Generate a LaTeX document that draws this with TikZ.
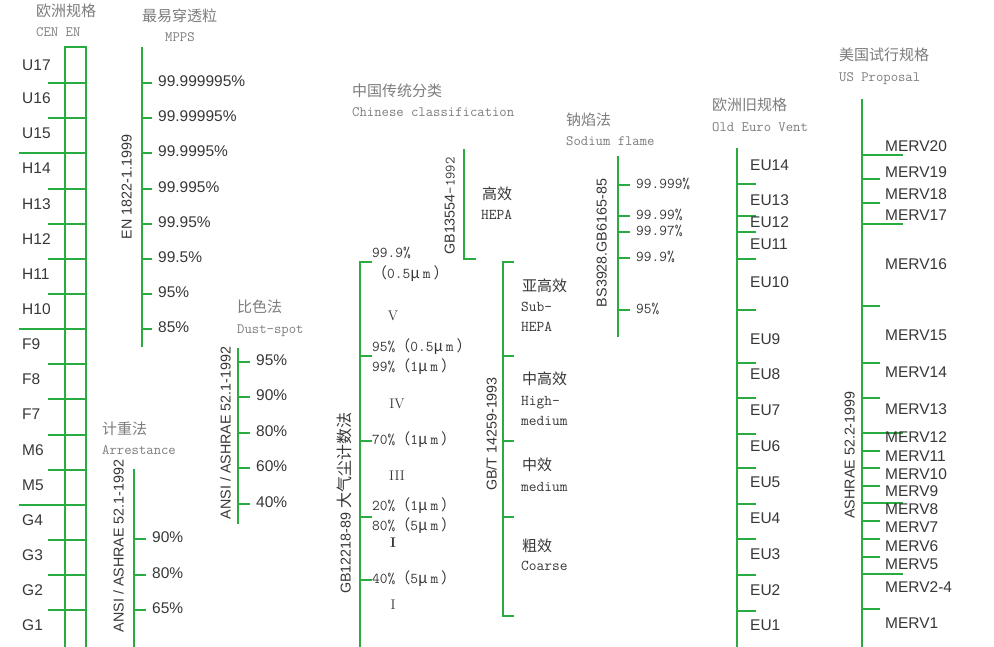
\documentclass[tikz,border=0pt]{standalone}
\usepackage{fontspec}
\newfontfamily\sansf{Liberation Sans}
\newfontfamily\cjk{Noto Sans CJK SC}
\definecolor{gl}{RGB}{40,172,64}
\definecolor{lab}{RGB}{55,55,55}
\definecolor{hdr}{RGB}{125,125,125}
\newcommand\um[1]{{\cjk （}#1{\cjk μ}\hspace{3pt}m\hspace{3pt}{\cjk ）}}
\begin{document}
\begin{tikzpicture}[x=1pt,y=-1pt,
  ln/.style={draw=gl, line width=2pt},
  lbl/.style={anchor=west, inner sep=0pt, text height=0.716em, text depth=0pt, text=lab, font=\sansf\fontsize{15.5}{16}\selectfont},
  rl/.style={rotate=90, inner sep=0pt, text height=0.716em, text depth=0pt, text=lab, font=\sansf\fontsize{14.3}{15}\selectfont},
  hz/.style={anchor=west, inner sep=0pt, text height=0.78em, text depth=0pt, text=hdr, font=\cjk\fontsize{15}{16}\selectfont},
  he/.style={anchor=west, inner sep=0pt, text height=0.62em, text depth=0pt, text=hdr, font=\ttfamily\fontsize{14.3}{15}\selectfont},
  cz/.style={anchor=west, inner sep=0pt, text height=0.78em, text depth=0pt, text=lab, font=\cjk\fontsize{15}{16}\selectfont},
  monol/.style={anchor=west, inner sep=0pt, text height=0.62em, text depth=0pt, text=lab, font=\ttfamily\fontsize{15}{16}\selectfont},
  rn/.style={anchor=center, inner sep=0pt, text height=0.68em, text depth=0pt, text=lab, font=\rmfamily\fontsize{14}{15}\selectfont}]
\useasboundingbox[fill=white] (0,0) rectangle (994,646);

% ---------- CEN EN ----------
\node[hz] (h1a) at (36,13) {欧洲规格};
\node[he] (h1b) at (36,33) {CEN EN};
\draw[ln] (65,647) -- (65,47) -- (86,47) -- (86,647);
\foreach \y in {83,118,189,224,259,294,364,399,435,470,540,575,610}
  \draw[ln] (48,\y) -- (86,\y);
\foreach \y in {153,329,505}
  \draw[ln] (19,\y) -- (86,\y);
\foreach \t/\y in {U17/67,U16/100,U15/135,H14/170,H13/206,H12/241,H11/276,H10/311,F9/346,F8/381,F7/416,M6/452,M5/487,G4/522,G3/557,G2/592,G1/627}
  \node[lbl] (cen\t) at (22,\y) {\t};

% ---------- MPPS ----------
\node[hz] (h2a) at (142,18) {最易穿透粒};
\node[he] (h2b) at (165,38) {MPPS};
\draw[ln] (142,47) -- (142,347);
\foreach \t/\y [count=\i] in {99.999995\%/83,99.99995\%/118,99.9995\%/153,99.995\%/189,99.95\%/224,99.5\%/259,95\%/294,85\%/329}{
  \draw[ln] (142,\y) -- (152,\y);
  \node[lbl] (mp\i) at (158,\y) {\t};}
\node[rl] (r1) at (128,187) {EN 1822-1.1999};

% ---------- Arrestance ----------
\node[hz] (h3a) at (102,431) {计重法};
\node[he] (h3b) at (102,451) {Arrestance};
\draw[ln] (134,469) -- (134,647);
\foreach \t/\y [count=\i] in {90\%/539,80\%/575,65\%/610}{
  \draw[ln] (134,\y) -- (146,\y);
  \node[lbl] (ar\i) at (152,\y) {\t};}
\node[rl] (r2) at (120,546) {ANSI / ASHRAE 52.1-1992};

% ---------- Dust-spot ----------
\node[hz] (h4a) at (237,309) {比色法};
\node[he] (h4b) at (237,330) {Dust-spot};
\draw[ln] (238,348) -- (238,524);
\foreach \t/\y [count=\i] in {95\%/362,90\%/397,80\%/433,60\%/468,40\%/504}{
  \draw[ln] (238,\y) -- (250,\y);
  \node[lbl] (ds\i) at (256,\y) {\t};}
\node[rl] (r3) at (227,433) {ANSI / ASHRAE 52.1-1992};

% ---------- Chinese classification ----------
\node[hz] (h5a) at (352,93) {中国传统分类};
\node[he] (h5b) at (352,113) {Chinese classification};
% GB13554
\draw[ln] (464,149) -- (464,259) -- (476,259);
\node[rl, anchor=center] (r4) at (451,206) {GB13554{\ttfamily -1992}};
\node[cz] (c1) at (482,196) {高效};
\node[monol] (c2) at (481,216) {HEPA};
% GB12218
\draw[ln] (372,262) -- (360,262) -- (360,647);
\foreach \y in {356,441,517,580} \draw[ln] (360,\y) -- (372,\y);
\node[rl, anchor=west] (r5) at (347,594) {GB12218-89 {\cjk\fontsize{16}{16}\selectfont 大气尘计数法}};
\node[monol] (g1) at (372,254) {99.9\%};
\node[monol] (g2) at (372,275) {\um{0.5}};
\node[rn] (g3) at (393,317) {V};
\node[monol] (g4) at (372,348) {95\%\um{0.5}};
\node[monol] (g5) at (372,368) {99\%\um{1}};
\node[rn] (g6) at (397,405) {IV};
\node[monol] (g7) at (372,441) {70\%\um{1}};
\node[rn] (g8) at (397,477) {III};
\node[monol] (g9) at (372,507) {20\%\um{1}};
\node[monol] (g10) at (372,527) {80\%\um{5}};
\node[rn, font=\rmfamily\bfseries\fontsize{14}{15}\selectfont] (g11) at (393,544) {I};
\node[monol] (g12) at (372,580) {40\%\um{5}};
\node[rn] (g13) at (393,606) {I};
% GB/T 14259
\draw[ln] (514,262) -- (503,262) -- (503,616) -- (514,616);
\foreach \y in {356,441,517} \draw[ln] (503,\y) -- (514,\y);
\node[rl] (r6) at (493,434) {GB/T 14259-1993};
\node[cz] (s1) at (522,288) {亚高效};
\node[monol] (s2) at (521,308) {Sub-};
\node[monol] (s3) at (521,328) {HEPA};
\node[cz] (s4) at (522,381) {中高效};
\node[monol] (s5) at (521,402) {High-};
\node[monol] (s6) at (521,422) {medium};
\node[cz] (s7) at (522,467) {中效};
\node[monol] (s8) at (521,488) {medium};
\node[cz] (s9) at (522,548) {粗效};
\node[monol] (s10) at (521,567) {Coarse};

% ---------- Sodium flame ----------
\node[hz] (h6a) at (566,122) {钠焰法};
\node[he] (h6b) at (566,142) {Sodium flame};
\draw[ln] (618,156) -- (618,337);
\foreach \t/\y [count=\i] in {99.999\%/185,99.99\%/216,99.97\%/232,99.9\%/258,95\%/310}{
  \draw[ln] (618,\y) -- (630,\y);
  \node[monol] (na\i) at (636,\y) {\t};}
\node[rl] (r7) at (603,243) {BS3928.GB6165-85};

% ---------- Old Euro Vent ----------
\node[hz] (h7a) at (712,107) {欧洲旧规格};
\node[he] (h7b) at (712,128) {Old Euro Vent};
\draw[ln] (737,148) -- (737,647);
\foreach \y in {184,216,232,259,310,363,398,434,468,504,539,575,611}
  \draw[ln] (737,\y) -- (756,\y);
\foreach \t/\y in {EU14/167,EU13/202,EU12/224,EU11/246,EU10/284,EU9/341,EU8/376,EU7/412,EU6/448,EU5/484,EU4/520,EU3/556,EU2/592,EU1/627}
  \node[lbl] (eu\t) at (750,\y) {\t};

% ---------- US Proposal ----------
\node[hz] (h8a) at (839,57) {美国试行规格};
\node[he] (h8b) at (839,78) {US Proposal};
\draw[ln] (862,99) -- (862,647);
\foreach \y in {155,224,433,503,574}
  \draw[ln] (862,\y) -- (903,\y);
\foreach \y in {179,203,306,363,398,451,468,486,521,539,557,609}
  \draw[ln] (862,\y) -- (880,\y);
\foreach \t/\y in {MERV20/148,MERV19/174,MERV18/196,MERV17/217,MERV16/266,MERV15/337,MERV14/374,MERV13/411,MERV12/439,MERV11/458,MERV10/476,MERV9/493,MERV8/511,MERV7/529,MERV6/548,MERV5/566,MERV2-4/589,MERV1/625}
  \node[lbl] (us\t) at (885,\y) {\t};
\node[rl] (r8) at (851,455) {ASHRAE 52.2-1999};
\end{tikzpicture}
\end{document}
